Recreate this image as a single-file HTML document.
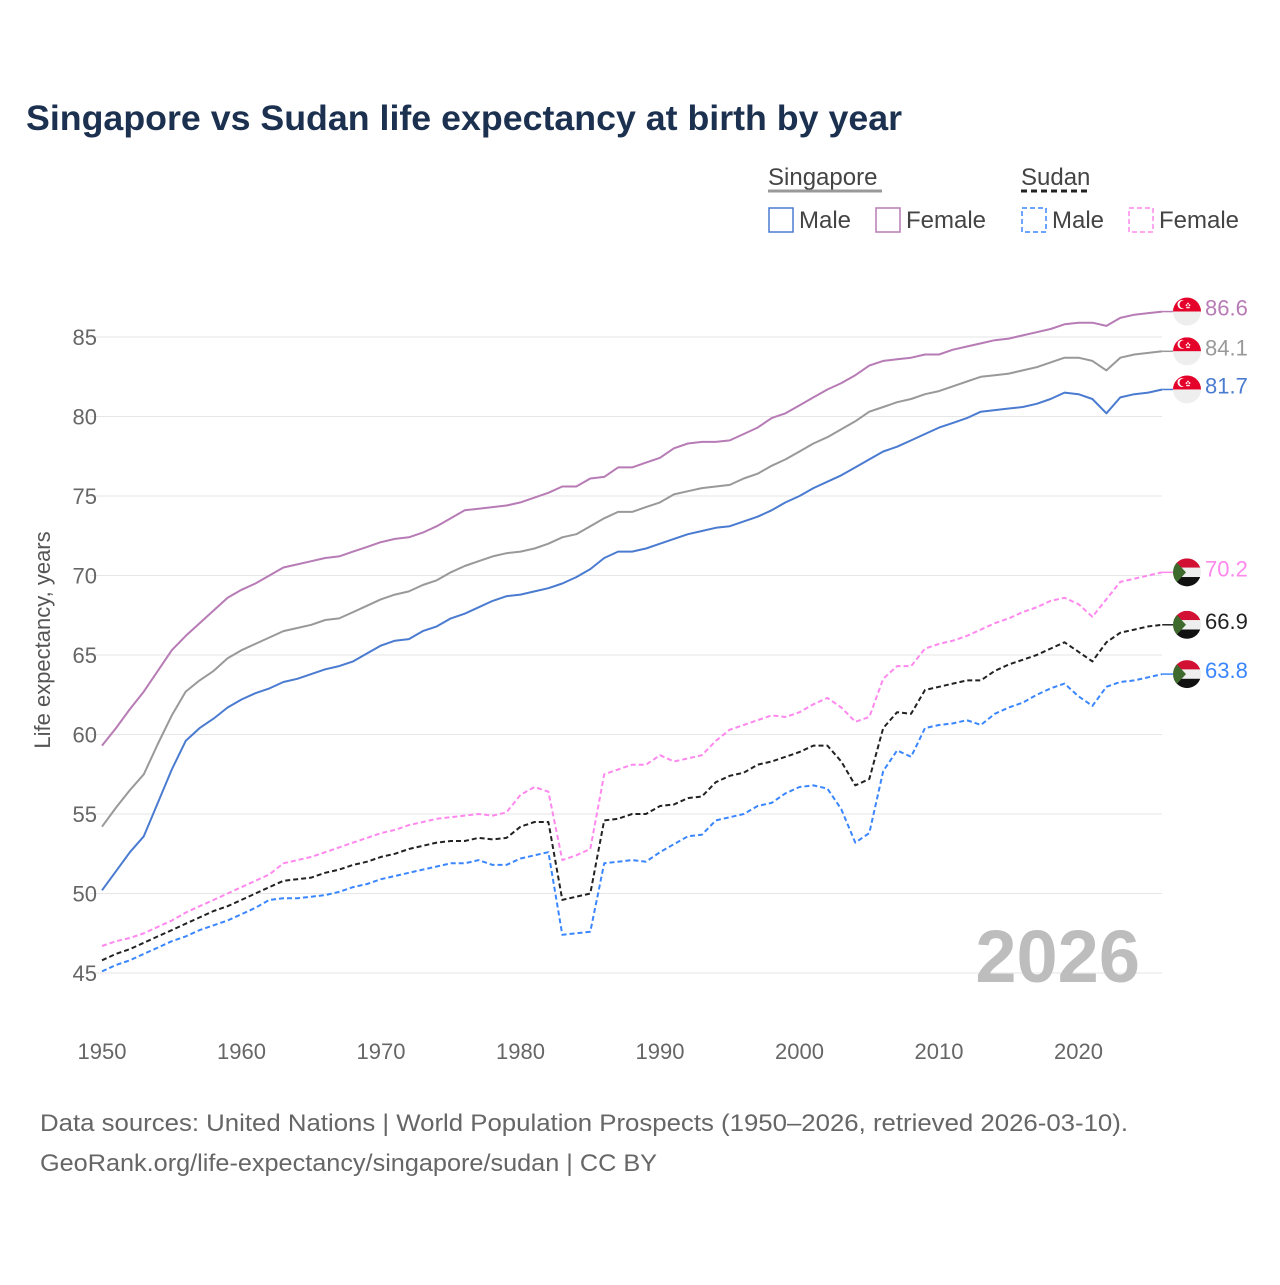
<!DOCTYPE html>
<html><head><meta charset="utf-8"><style>
body{margin:0;background:#fff;}
svg text{font-family:"Liberation Sans",sans-serif;}
</style></head><body>
<svg id="chart" width="1280" height="1280" viewBox="0 0 1280 1280" xmlns="http://www.w3.org/2000/svg">
<rect width="1280" height="1280" fill="#fff"/>
<text x="26" y="130" font-size="35" font-weight="bold" fill="#1c3150" textLength="876" lengthAdjust="spacingAndGlyphs">Singapore vs Sudan life expectancy at birth by year</text>
<g>
<text x="768" y="185" font-size="24" fill="#444">Singapore</text>
<line x1="768" y1="191" x2="882" y2="191" stroke="#999" stroke-width="3"/>
<rect x="769" y="208" width="24" height="24" fill="none" stroke="#4a7bd0" stroke-width="1.5"/>
<text x="799" y="228" font-size="24" fill="#444">Male</text>
<rect x="876" y="208" width="24" height="24" fill="none" stroke="#b77bb5" stroke-width="1.5"/>
<text x="906" y="228" font-size="24" fill="#444">Female</text>
<text x="1021" y="185" font-size="24" fill="#444">Sudan</text>
<line x1="1021" y1="191" x2="1091" y2="191" stroke="#222" stroke-width="3" stroke-dasharray="6,4"/>
<rect x="1022" y="208" width="24" height="24" fill="none" stroke="#3a86ff" stroke-width="1.5" stroke-dasharray="5,3"/>
<text x="1052" y="228" font-size="24" fill="#444">Male</text>
<rect x="1129" y="208" width="24" height="24" fill="none" stroke="#ff88ee" stroke-width="1.5" stroke-dasharray="5,3"/>
<text x="1159" y="228" font-size="24" fill="#444">Female</text>
</g>
<g id="grid"></g><g id="axes"></g>
<text transform="translate(50,640) rotate(-90)" text-anchor="middle" font-size="22" fill="#555">Life expectancy, years</text>
<text x="1140" y="982" text-anchor="end" font-size="74" font-weight="bold" fill="#bdbdbd">2026</text>
<g id="series"></g><g id="labels"></g>
<text x="40" y="1131" font-size="24" fill="#666" textLength="1088" lengthAdjust="spacingAndGlyphs">Data sources: United Nations | World Population Prospects (1950–2026, retrieved 2026-03-10).</text>
<text x="40" y="1171" font-size="24" fill="#666" textLength="617" lengthAdjust="spacingAndGlyphs">GeoRank.org/life-expectancy/singapore/sudan | CC BY</text>
</svg>
<script>
const startYear = 1950;
const xTicks = [1950,1960,1970,1980,1990,2000,2010,2020];
const yTicks = [45,50,55,60,65,70,75,80,85];
const sgFemale = [59.3,60.4,61.6,62.7,64.0,65.3,66.2,67.0,67.8,68.6,69.1,69.5,70.0,70.5,70.7,70.9,71.1,71.2,71.5,71.8,72.1,72.3,72.4,72.7,73.1,73.6,74.1,74.2,74.3,74.4,74.6,74.9,75.2,75.6,75.6,76.1,76.2,76.8,76.8,77.1,77.4,78.0,78.3,78.4,78.4,78.5,78.9,79.3,79.9,80.2,80.7,81.2,81.7,82.1,82.6,83.2,83.5,83.6,83.7,83.9,83.9,84.2,84.4,84.6,84.8,84.9,85.1,85.3,85.5,85.8,85.9,85.9,85.7,86.2,86.4,86.5,86.6];
const sgTotal = [54.2,55.4,56.5,57.5,59.4,61.2,62.7,63.4,64.0,64.8,65.3,65.7,66.1,66.5,66.7,66.9,67.2,67.3,67.7,68.1,68.5,68.8,69.0,69.4,69.7,70.2,70.6,70.9,71.2,71.4,71.5,71.7,72.0,72.4,72.6,73.1,73.6,74.0,74.0,74.3,74.6,75.1,75.3,75.5,75.6,75.7,76.1,76.4,76.9,77.3,77.8,78.3,78.7,79.2,79.7,80.3,80.6,80.9,81.1,81.4,81.6,81.9,82.2,82.5,82.6,82.7,82.9,83.1,83.4,83.7,83.7,83.5,82.9,83.7,83.9,84.0,84.1];
const sgMale = [50.2,51.4,52.6,53.6,55.7,57.8,59.6,60.4,61.0,61.7,62.2,62.6,62.9,63.3,63.5,63.8,64.1,64.3,64.6,65.1,65.6,65.9,66.0,66.5,66.8,67.3,67.6,68.0,68.4,68.7,68.8,69.0,69.2,69.5,69.9,70.4,71.1,71.5,71.5,71.7,72.0,72.3,72.6,72.8,73.0,73.1,73.4,73.7,74.1,74.6,75.0,75.5,75.9,76.3,76.8,77.3,77.8,78.1,78.5,78.9,79.3,79.6,79.9,80.3,80.4,80.5,80.6,80.8,81.1,81.5,81.4,81.1,80.2,81.2,81.4,81.5,81.7];
const sdFemale = [46.7,47.0,47.2,47.5,47.9,48.3,48.8,49.2,49.6,50.0,50.4,50.8,51.2,51.9,52.1,52.3,52.6,52.9,53.2,53.5,53.8,54.0,54.3,54.5,54.7,54.8,54.9,55.0,54.9,55.1,56.2,56.7,56.4,52.1,52.4,52.8,57.5,57.8,58.1,58.1,58.7,58.3,58.5,58.7,59.6,60.3,60.6,60.9,61.2,61.1,61.4,61.9,62.3,61.7,60.8,61.1,63.5,64.3,64.3,65.4,65.7,65.9,66.2,66.6,67.0,67.3,67.7,68.0,68.4,68.6,68.2,67.4,68.5,69.6,69.8,70.0,70.2];
const sdTotal = [45.8,46.2,46.5,46.9,47.3,47.7,48.1,48.5,48.9,49.2,49.6,50.0,50.4,50.8,50.9,51.0,51.3,51.5,51.8,52.0,52.3,52.5,52.8,53.0,53.2,53.3,53.3,53.5,53.4,53.5,54.2,54.5,54.5,49.6,49.8,50.0,54.6,54.7,55.0,55.0,55.5,55.6,56.0,56.1,57.0,57.4,57.6,58.1,58.3,58.6,58.9,59.3,59.3,58.3,56.8,57.2,60.4,61.4,61.3,62.8,63.0,63.2,63.4,63.4,64.0,64.4,64.7,65.0,65.4,65.8,65.2,64.6,65.8,66.4,66.6,66.8,66.9];
const sdMale = [45.1,45.5,45.8,46.2,46.6,47.0,47.3,47.7,48.0,48.3,48.7,49.1,49.6,49.7,49.7,49.8,49.9,50.1,50.4,50.6,50.9,51.1,51.3,51.5,51.7,51.9,51.9,52.1,51.8,51.8,52.2,52.4,52.6,47.4,47.5,47.6,51.9,52.0,52.1,52.0,52.6,53.1,53.6,53.7,54.6,54.8,55.0,55.5,55.7,56.3,56.7,56.8,56.6,55.3,53.2,53.8,57.7,59.0,58.6,60.4,60.6,60.7,60.9,60.6,61.3,61.7,62.0,62.5,62.9,63.2,62.4,61.8,63.0,63.3,63.4,63.6,63.8];

const NS="http://www.w3.org/2000/svg";
function xS(yr){return 102+(yr-1950)*13.95;}
function yS(v){return 973-(v-45)*15.9;}
function mk(tag,attrs,parent){const e=document.createElementNS(NS,tag);for(const k in attrs)e.setAttribute(k,attrs[k]);parent.appendChild(e);return e;}
const grid=document.getElementById('grid'),axes=document.getElementById('axes'),ser=document.getElementById('series'),lab=document.getElementById('labels');
yTicks.forEach(v=>{
  const l=mk('line',{x1:90,x2:1162,y1:yS(v),y2:yS(v),stroke:'#e6e6e6','stroke-width':1},grid);
  
  
  const t=mk('text',{x:97,y:yS(v)+8,'text-anchor':'end','font-size':22,fill:'#666'},axes);
  t.textContent=v;
  
  
});
xTicks.forEach(yr=>{
  const t=mk('text',{x:xS(yr),y:1059,'text-anchor':'middle','font-size':22,fill:'#666'},axes);
  t.textContent=yr;
  
  
});
function flag(cx,cy,type,parent){
  const g=mk('g',{},parent);
  
  
  const id='c'+Math.round(cy);
  const cp=mk('clipPath',{id:id},g);mk('circle',{cx:cx,cy:cy,r:14},cp);
  const gg=mk('g',{'clip-path':'url(#'+id+')'},g);
  if(type==='singapore'){
    mk('rect',{x:cx-14,y:cy-14,width:28,height:14,fill:'#e4022a'},gg);
    mk('rect',{x:cx-14,y:cy,width:28,height:14,fill:'#eeeeee'},gg);
    mk('circle',{cx:cx-5,cy:cy-7,r:4.5,fill:'#fff'},gg);
    mk('circle',{cx:cx-3.5,cy:cy-7,r:4,fill:'#e4022a'},gg);
    [[0,-10],[2.5,-8],[1.5,-5],[-1.5,-5],[-2.5,-8]].forEach(p=>mk('circle',{cx:cx+1+p[0]*0.6,cy:cy+p[1]*0.8,r:0.9,fill:'#fff'},gg));
  } else {
    mk('rect',{x:cx-14,y:cy-14,width:28,height:9.5,fill:'#d21034'},gg);
    mk('rect',{x:cx-14,y:cy-4.7,width:28,height:9.4,fill:'#eeeeee'},gg);
    mk('rect',{x:cx-14,y:cy+4.7,width:28,height:9.5,fill:'#111'},gg);
    mk('polygon',{points:(cx-14)+','+(cy-14)+' '+(cx-1)+','+cy+' '+(cx-14)+','+(cy+14),fill:'#3e6a2e'},gg);
  }
}
const series=[
 {name:'singapore-female',d:sgFemale,c:'#b77bb5',dash:null,f:'singapore'},
 {name:'singapore-total',d:sgTotal,c:'#999999',dash:null,f:'singapore'},
 {name:'singapore-male',d:sgMale,c:'#4a7bd0',dash:null,f:'singapore'},
 {name:'sudan-female',d:sdFemale,c:'#ff88ee',dash:'5,3',f:'sudan'},
 {name:'sudan-total',d:sdTotal,c:'#222222',dash:'5,3',f:'sudan'},
 {name:'sudan-male',d:sdMale,c:'#3a86ff',dash:'5,3',f:'sudan'}
];
series.forEach(s=>{
  const pts=s.d.map((v,i)=>xS(startYear+i).toFixed(1)+','+yS(v).toFixed(1)).join(' ');
  const attrs={points:pts,fill:'none',stroke:s.c,'stroke-width':2,'stroke-linejoin':'round'};
  if(s.dash)attrs['stroke-dasharray']=s.dash;
  const p=mk('polyline',attrs,ser);
  
  
  const last=s.d[s.d.length-1];
  const ly=yS(last);
  mk('line',{x1:xS(startYear+s.d.length-1),x2:1173,y1:ly,y2:ly,stroke:s.c,'stroke-width':1.5},lab);
  flag(1187,ly,s.f,lab);
  const t=mk('text',{x:1205,y:ly+4,'font-size':22,fill:s.c},lab);
  t.textContent=last.toFixed(1);
  
  
});
</script>
</body></html>
